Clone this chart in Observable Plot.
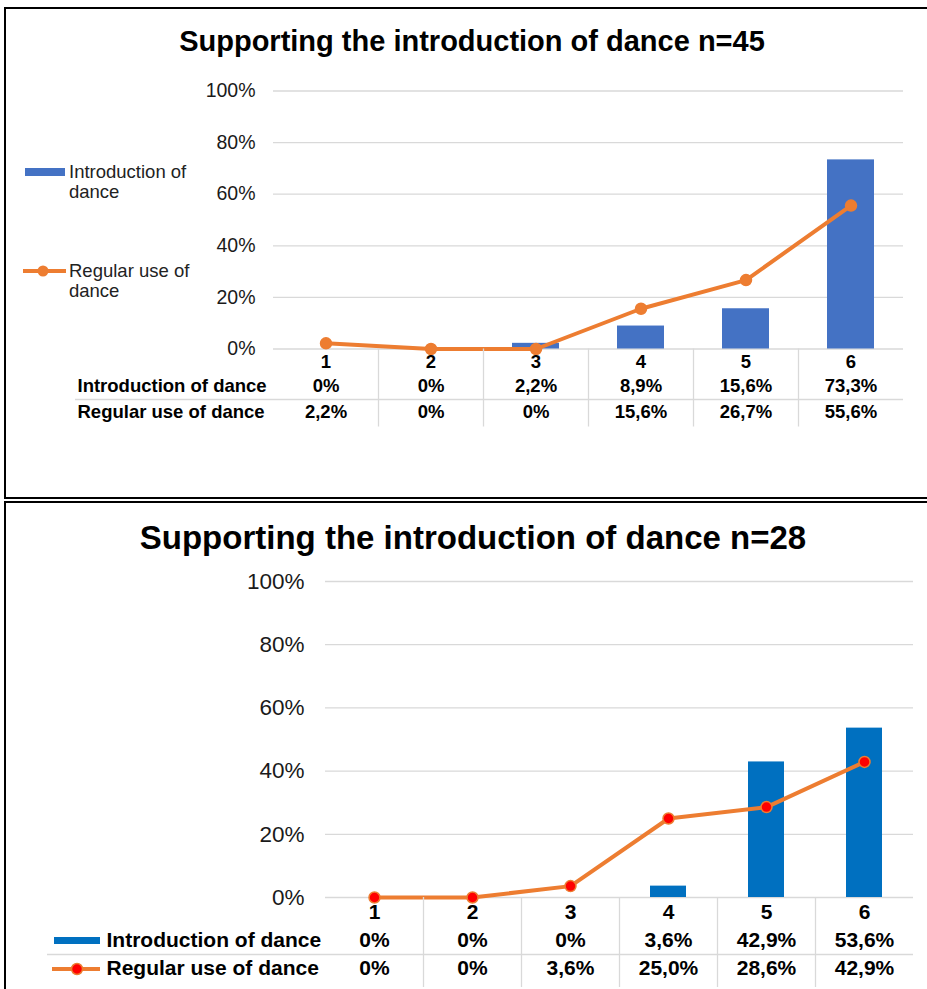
<!DOCTYPE html>
<html><head><meta charset="utf-8">
<script src="https://cdn.jsdelivr.net/npm/d3@7"></script>
<script src="https://cdn.jsdelivr.net/npm/@observablehq/plot@0.6"></script>
<style>
body{margin:0;background:#fff;font-family:"Liberation Sans",Arial,sans-serif;}
#page{position:relative;width:927px;height:989px;overflow:hidden;background:#fff}
.abs{position:absolute}
.title{position:absolute;left:0;text-align:center;font-weight:bold;color:#000;white-space:nowrap;line-height:1}
.leg{position:absolute;font-size:18.5px;line-height:20px;color:#222;white-space:nowrap}
svg{position:absolute;left:0}
</style></head>
<body><div id="page"></div>
<script>
const categories = ["1","2","3","4","5","6"];
const yTicks = [0,20,40,60,80,100];
const rowLabels = ["Introduction of dance","Regular use of dance"];
// n=45
const intro45 = [0,0,2.2,8.9,15.6,73.3];
const regular45 = [2.2,0,0,15.6,26.7,55.6];
// n=28
const intro28 = [0,0,0,3.6,42.9,53.6];
const regular28 = [0,0,3.6,25.0,28.6,42.9];
const titles = ["Supporting the introduction of dance n=45","Supporting the introduction of dance n=28"];

const ORANGE = "#ED7D31";
const fmt = v => v === 0 ? "0%" : v.toFixed(1).replace(".", ",") + "%";
const page = document.getElementById("page");

function el(html){ const d=document.createElement("div"); d.innerHTML=html; return d.firstElementChild; }

function makeChart(cfg){
  const rows = categories.map((c,i)=>({cat:c, intro:cfg.intro[i], reg:cfg.reg[i]}));
  const step = (927 - cfg.ml - cfg.mr)/categories.length;
  const bold = {fontWeight:"bold", fontSize:cfg.tf, fill:"#000"};
  return Plot.plot({
    width:927, height:cfg.h,
    marginLeft:cfg.ml, marginRight:cfg.mr, marginTop:cfg.mt, marginBottom:cfg.mb,
    style:{fontFamily:"Liberation Sans, Arial, sans-serif", background:"transparent", overflow:"visible"},
    x:{type:"band", domain:categories, paddingInner:cfg.pi, paddingOuter:cfg.pi/2, axis:null},
    y:{domain:[0,100], axis:null},
    marks:[
      Plot.gridY(yTicks, {stroke:"#d9d9d9", strokeOpacity:1, strokeWidth:1.3}),
      Plot.axisY(yTicks, {anchor:"left", tickSize:0, tickPadding:cfg.tp, tickFormat:d=>d+"%", fontSize:cfg.yf, fill:"#1a1a1a"}),
      Plot.barY(rows, {x:"cat", y:"intro", fill:cfg.bar}),
      Plot.line(rows, {x:"cat", y:"reg", stroke:ORANGE, strokeWidth:4}),
      Plot.dot(rows, {x:"cat", y:"reg", r:cfg.r, fill:cfg.dotFill, stroke:cfg.dotStroke, strokeWidth:1.5}),
      Plot.ruleX(categories.slice(0,-1), {x:d=>d, dx:step/2, y1:0, y2:0, insetBottom:-cfg.sepLen, stroke:"#d9d9d9", strokeWidth:1.3}),
      Plot.ruleY([0], {y:0, dy:cfg.hSep, insetLeft:-(cfg.ml-cfg.hSepX), stroke:"#d9d9d9", strokeWidth:1.3}),
      Plot.text(rows, {x:"cat", y:0, dy:cfg.d0, text:"cat", ...bold}),
      Plot.text(rows, {x:"cat", y:0, dy:cfg.d1, text:d=>fmt(d.intro), ...bold}),
      Plot.text(rows, {x:"cat", y:0, dy:cfg.d2, text:d=>fmt(d.reg), ...bold}),
      Plot.text([rowLabels[0]], {frameAnchor:"left", y:0, dy:cfg.d1, dx:cfg.lx-cfg.ml, text:d=>d, textAnchor:"start", ...bold}),
      Plot.text([rowLabels[1]], {frameAnchor:"left", y:0, dy:cfg.d2, dx:cfg.lx-cfg.ml, text:d=>d, textAnchor:"start", ...bold})
    ]
  });
}

// Panel frames
page.appendChild(el('<div class="abs" style="left:4px;top:7px;width:960px;height:492px;box-sizing:border-box;border:2px solid #000"></div>'));
page.appendChild(el('<div class="abs" style="left:4px;top:501px;width:960px;height:520px;box-sizing:border-box;border:2px solid #000"></div>'));

// Top chart
const c1 = makeChart({intro:intro45, reg:regular45, h:497, ml:273, mr:24, mt:90.5, mb:148.5, pi:0.55,
  tp:18, yf:19.5, tf:18.5, bar:"#4472C4", r:5.5, dotFill:ORANGE, dotStroke:ORANGE,
  sepLen:78, hSep:50.5, hSepX:75, d0:13.5, d1:37.5, d2:63.5, lx:77});
c1.style.top = "0px";
page.appendChild(c1);
page.appendChild(el(`<div class="title" style="top:27px;width:944px;font-size:29px">${titles[0]}</div>`));

// Top legend
page.appendChild(el('<svg class="abs" style="left:20px;top:160px" width="50" height="130"><rect x="5" y="8" width="40" height="8" fill="#4472C4"/><line x1="3" x2="46" y1="111" y2="111" stroke="#ED7D31" stroke-width="4"/><circle cx="23" cy="111" r="5.5" fill="#ED7D31"/></svg>'));
page.appendChild(el(`<div class="leg" style="left:69px;top:162px">Introduction of<br>dance</div>`));
page.appendChild(el(`<div class="leg" style="left:69px;top:261px">Regular use of<br>dance</div>`));

// Bottom chart
const c2 = makeChart({intro:intro28, reg:regular28, h:489, ml:325, mr:14, mt:81, mb:92, pi:0.63,
  tp:21, yf:22.5, tf:21, bar:"#0070C0", r:5.5, dotFill:"#FF0000", dotStroke:ORANGE,
  sepLen:90, hSep:57, hSepX:47, d0:15, d1:43, d2:71, lx:106});
c2.style.top = "500px";
page.appendChild(c2);
page.appendChild(el(`<div class="title" style="top:521px;width:946px;font-size:33px">${titles[1]}</div>`));

// Bottom legend swatches (in table)
page.appendChild(el('<svg class="abs" style="left:50px;top:930px" width="56" height="50"><rect x="4" y="7" width="46" height="7" fill="#0070C0"/><line x1="2" x2="50" y1="39" y2="39" stroke="#ED7D31" stroke-width="4"/><circle cx="27" cy="39" r="5.5" fill="#FF0000" stroke="#ED7D31" stroke-width="1.5"/></svg>'));
</script>
</body></html>
